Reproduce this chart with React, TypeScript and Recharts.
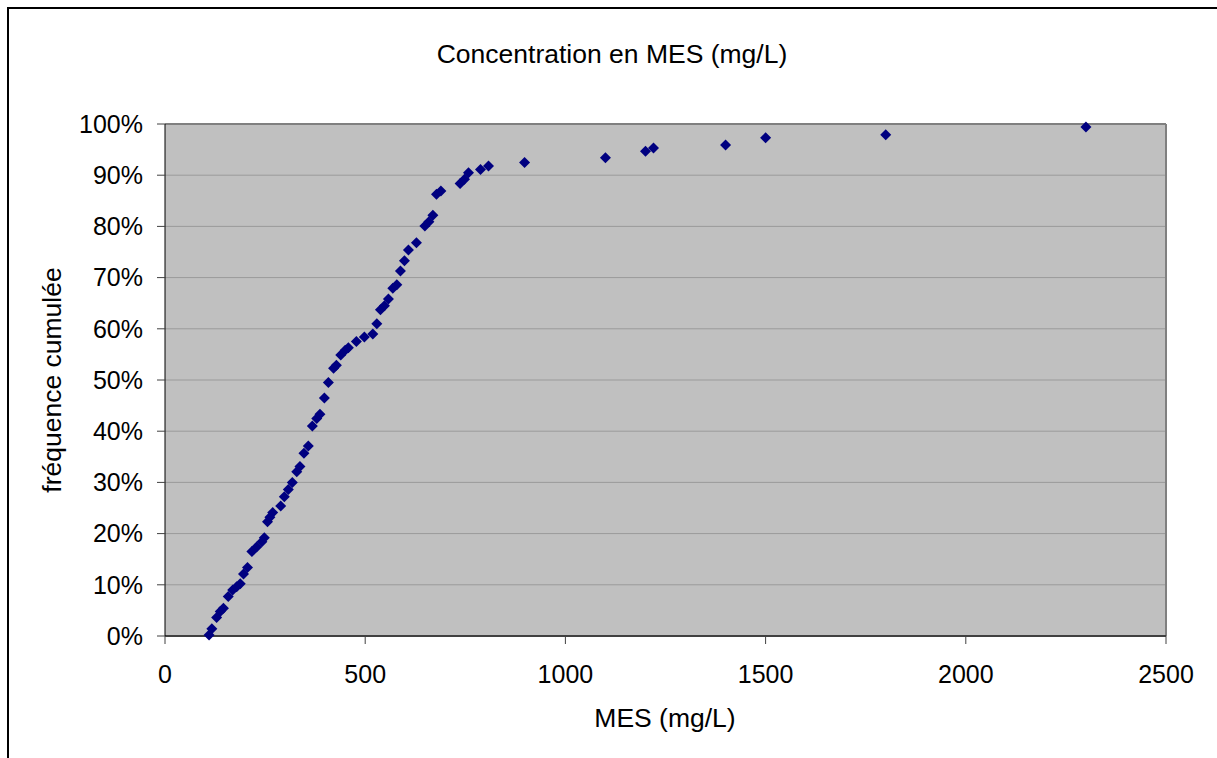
import { ScatterChart, Scatter, XAxis, YAxis, CartesianGrid, ReferenceLine } from 'recharts'

// MES concentration (mg/L) and cumulative frequency (%) for each sample
const mesValues = [
  110, 117, 129, 138, 146, 158, 169, 179, 188, 196, 206, 217, 229, 242, 248, 256, 262, 269, 289, 298,
  308, 318, 329, 337, 347, 358, 368, 379, 387, 398, 408, 421, 428, 439, 450, 458, 478, 498, 519, 529,
  538, 548, 558, 569, 579, 588, 598, 608, 628, 649, 659, 669, 678, 689, 737, 748, 758, 788, 808, 898,
  1100, 1200, 1220, 1400, 1500, 1800, 2300,
]
const frequencyValues = [
  0.2, 1.4, 3.6, 4.8, 5.4, 7.7, 9.0, 9.6, 10.2, 12.1, 13.4, 16.5, 17.4, 18.4, 19.2, 22.3, 23.2, 24.1, 25.4, 27.2,
  28.6, 30.0, 32.1, 33.1, 35.7, 37.1, 41.0, 42.5, 43.3, 46.5, 49.5, 52.3, 52.9, 54.9, 55.8, 56.3, 57.5, 58.4, 59.0, 61.0,
  63.7, 64.5, 65.8, 67.9, 68.6, 71.3, 73.3, 75.4, 76.8, 80.1, 80.9, 82.2, 86.3, 86.9, 88.4, 89.2, 90.5, 91.1, 91.8, 92.5,
  93.4, 94.7, 95.3, 95.9, 97.3, 97.9, 99.4,
]
const xTicks = [0, 500, 1000, 1500, 2000, 2500]
const yTicks = [0, 10, 20, 30, 40, 50, 60, 70, 80, 90, 100]

const FONT = '"Liberation Sans", Arial, sans-serif'
const FS = 25
const LABEL_FS = 26.5

function Diamond(props: any) {
  const { cx, cy } = props
  if (cx == null || cy == null) return null
  const r = 5.5
  return (
    <polygon
      points={`${cx},${cy - r} ${cx + r},${cy} ${cx},${cy + r} ${cx - r},${cy}`}
      fill="#000080"
    />
  )
}

export default function App() {
  const data = mesValues.map((mes, i) => ({ mes, freq: frequencyValues[i] }))

  return (
    <div style={{ position: 'fixed', left: 0, top: 0, width: 1217, height: 758, overflow: 'hidden', background: '#fff', fontFamily: FONT }}>
      <div style={{ position: 'absolute', left: 7, top: 7, width: 1300, height: 900, border: '2px solid #000' }} />
      <div style={{ position: 'absolute', left: 0, top: 0 }}>
        <ScatterChart width={1217} height={758} margin={{ top: 124, right: 51, bottom: 42, left: 85 }}>
          <CartesianGrid vertical={false} fill="#c0c0c0" stroke="#9a9a9a" strokeWidth={1} />
          <XAxis
            type="number"
            dataKey="mes"
            domain={[0, 2500]}
            ticks={xTicks}
            height={80}
            tickSize={8}
            tickMargin={21}
            axisLine={{ stroke: '#404040', strokeWidth: 2 }}
            tickLine={{ stroke: '#404040' }}
            tick={{ fill: '#000', fontSize: FS, fontFamily: FONT }}
          />
          <YAxis
            type="number"
            dataKey="freq"
            domain={[0, 100]}
            ticks={yTicks}
            width={80}
            tickSize={8}
            tickMargin={14}
            tickFormatter={(v) => `${v}%`}
            axisLine={{ stroke: '#000' }}
            tickLine={{ stroke: '#404040' }}
            tick={{ fill: '#000', fontSize: FS, fontFamily: FONT }}
          />
          <ReferenceLine y={100} stroke="#808080" strokeWidth={2} />
          <ReferenceLine x={2500} stroke="#808080" strokeWidth={2} />
          <Scatter data={data} shape={Diamond} isAnimationActive={false} />
        </ScatterChart>
      </div>
      <div style={{ position: 'absolute', left: 612, top: 41, transform: 'translateX(-50%)', fontSize: LABEL_FS, lineHeight: 1, whiteSpace: 'nowrap' }}>
        Concentration en MES (mg/L)
      </div>
      <div style={{ position: 'absolute', left: 665, top: 705, transform: 'translateX(-50%)', fontSize: LABEL_FS, lineHeight: 1, whiteSpace: 'nowrap' }}>
        MES (mg/L)
      </div>
      <div style={{ position: 'absolute', left: 52, top: 380, transform: 'translate(-50%, -50%) rotate(-90deg)', fontSize: LABEL_FS, lineHeight: 1, whiteSpace: 'nowrap' }}>
        fréquence cumulée
      </div>
    </div>
  )
}
